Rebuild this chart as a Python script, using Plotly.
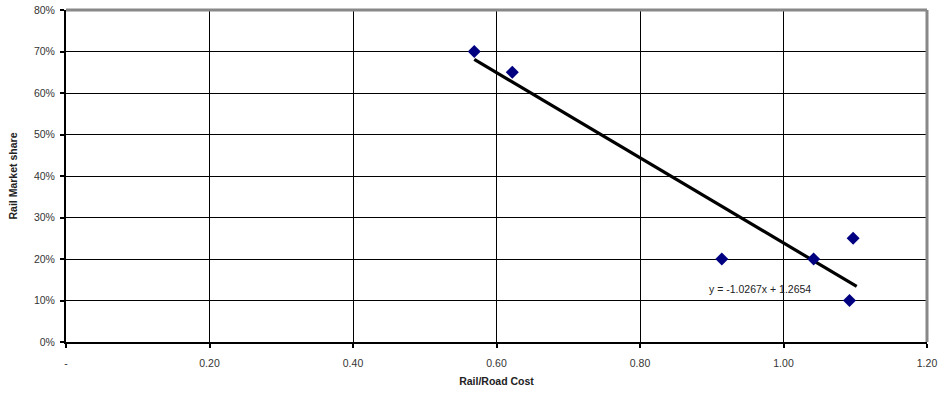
import plotly.graph_objects as go
import numpy as np

# Data
rail_road_cost = [0.569, 0.622, 0.914, 1.042, 1.097, 1.092]
rail_market_share = [0.70, 0.65, 0.20, 0.20, 0.25, 0.10]
slope = -1.0267
intercept = 1.2654
x_ticks = [0, 0.2, 0.4, 0.6, 0.8, 1.0, 1.2]
x_tick_labels = ["-", "0.20", "0.40", "0.60", "0.80", "1.00", "1.20"]
y_ticks = [0, 0.1, 0.2, 0.3, 0.4, 0.5, 0.6, 0.7, 0.8]
y_tick_labels = ["0%", "10%", "20%", "30%", "40%", "50%", "60%", "70%", "80%"]

FONT = "Liberation Sans, Arial, sans-serif"

trend_x = np.array([min(rail_road_cost), max(rail_road_cost) + 0.005])
trend_y = slope * trend_x + intercept

fig = go.Figure()
fig.add_trace(go.Scatter(
    x=trend_x, y=trend_y, mode="lines",
    line=dict(color="black", width=3.2), hoverinfo="skip", showlegend=False))
fig.add_trace(go.Scatter(
    x=rail_road_cost, y=rail_market_share, mode="markers",
    marker=dict(symbol="diamond", size=10, color="#000080"),
    showlegend=False))

fig.add_annotation(
    x=0.893, y=0.128, xref="x", yref="y", xanchor="left", yanchor="middle",
    text=f"y = {slope:.4f}x + {intercept:.4f}", showarrow=False,
    font=dict(family=FONT, size=10.5, color="#222222"))

# gray top and right border
fig.add_shape(type="line", xref="paper", yref="paper", x0=0, x1=1, y0=1, y1=1,
              line=dict(color="#888888", width=3), layer="above")
fig.add_shape(type="line", xref="paper", yref="paper", x0=1, x1=1, y0=0, y1=1,
              line=dict(color="#888888", width=3), layer="above")

fig.update_layout(
    width=939, height=397,
    margin=dict(l=66, r=12, t=10, b=55, autoexpand=False),
    paper_bgcolor="white", plot_bgcolor="white",
    font=dict(family=FONT, size=10.5, color="#222222"),
    xaxis=dict(
        range=[0, 1.2], tickvals=x_ticks, ticktext=x_tick_labels,
        showgrid=True, gridcolor="black", gridwidth=1,
        showline=True, linecolor="black", linewidth=2,
        ticks="outside", ticklen=4, tickcolor="black", tickwidth=1.5,
        ticklabelstandoff=6, ticklabeloverflow="allow",
        zeroline=False, automargin=False,
        title=dict(text="<b>Rail/Road Cost</b>", standoff=10,
                   font=dict(family=FONT, size=10.5, color="#222222")),
        tickfont=dict(family=FONT, size=10.5, color="#333333"),
    ),
    yaxis=dict(
        range=[0, 0.8], tickvals=y_ticks, ticktext=y_tick_labels,
        showgrid=True, gridcolor="black", gridwidth=1,
        showline=True, linecolor="black", linewidth=2,
        ticks="outside", ticklen=4, tickcolor="black", tickwidth=1.5,
        ticklabelstandoff=3, ticklabeloverflow="allow",
        zeroline=False, automargin=False,
        title=dict(text="<b>Rail Market share</b>", standoff=14,
                   font=dict(family=FONT, size=10.5, color="#222222")),
        tickfont=dict(family=FONT, size=10.5, color="#333333"),
    ),
)

fig.write_html(
    "out.html",
    config={"displayModeBar": False},
    post_script="document.body.style.margin='0';document.body.style.padding='0';",
)
